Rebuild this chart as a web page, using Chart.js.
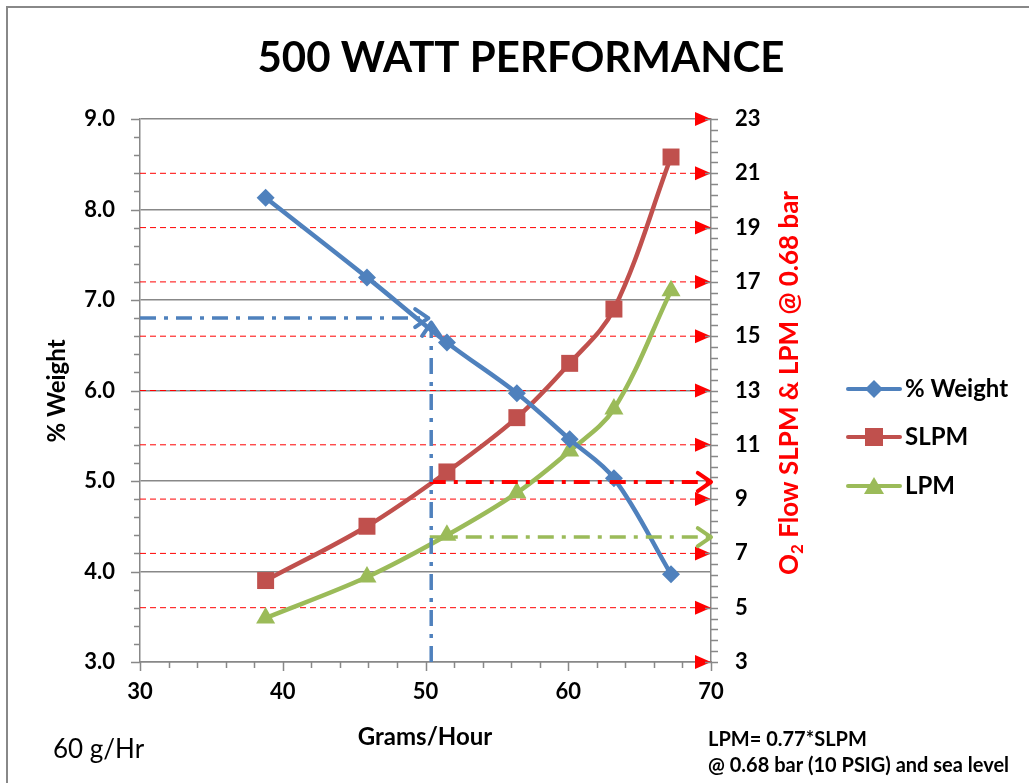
<!DOCTYPE html>
<html>
<head>
<meta charset="utf-8">
<script src="https://cdn.jsdelivr.net/npm/chart.js"></script>
<style>
  body { margin: 0; background: #fff; }
  #wrap { width: 1029px; height: 783px; position: relative; }
</style>
</head>
<body>
<div id="wrap"><canvas id="chart1"></canvas></div>
<script>
// data
const gramsPerHour = [38.8, 45.9, 51.5, 56.4, 60.1, 63.2, 67.2];
const pctWeight = [8.13, 7.25, 6.53, 5.97, 5.46, 5.03, 3.97];
const slpm = [6.0, 8.0, 10.0, 12.0, 14.0, 16.0, 21.6];
const lpm = [4.62, 6.13, 7.67, 9.23, 10.77, 12.32, 16.67];
const seriesNames = ['% Weight', 'SLPM', 'LPM'];

// guide lines for the 60 g/Hr example
const guideX = [30, 50.2];      // horizontal blue, at guideWeight
const guideWeight = 6.8;
const guideVY = [3.0, 6.75];    // vertical blue at x = 50.4
const guideVX = 50.4;
const guideFlowX = [50.3, 70];
const guideSlpm = 9.63;
const guideLpm = 7.6;

const FONT = 'Lato, "Open Sans", sans-serif';
const BLUE = '#4F81BD', RED = '#C0504D', GREEN = '#9BBB59', AXIS = '#888888';

const pts = (xs, ys) => xs.map((x, i) => ({ x: x, y: ys[i] }));
const dashDot = [16, 8, 4, 8];

// red dashed lines + arrow triangles at right axis ticks, minor ticks
const axisDeco = {
  id: 'axisDeco',
  beforeDatasetsDraw(chart) {
    const { ctx, chartArea: a, scales } = chart;
    const y2 = scales.y2;
    ctx.save();
    for (let v = 3; v <= 23; v += 2) {
      const py = y2.getPixelForValue(v);
      if (v > 3 && v < 23) {
        ctx.strokeStyle = '#FF0000';
        ctx.lineWidth = 1;
        ctx.setLineDash([6, 4]);
        ctx.beginPath();
        ctx.moveTo(a.left, py);
        ctx.lineTo(a.right - 10, py);
        ctx.stroke();
      }
      ctx.setLineDash([]);
      ctx.fillStyle = '#FF0000';
      ctx.beginPath();
      ctx.moveTo(a.right, py);
      ctx.lineTo(a.right - 16, py - 7);
      ctx.lineTo(a.right - 16, py + 7);
      ctx.closePath();
      ctx.fill();
    }
    ctx.restore();
  },
  afterDraw(chart) {
    const { ctx, chartArea: a, scales } = chart;
    ctx.save();
    ctx.strokeStyle = AXIS;
    ctx.lineWidth = 1.5;
    ctx.beginPath();
    // left axis ticks
    for (let i = 0; i <= 30; i++) {
      const py = Math.round(scales.y.getPixelForValue(3 + i * 0.2)) + 0.5;
      ctx.moveTo(a.left - (i % 5 === 0 ? 9 : 6), py);
      ctx.lineTo(a.left, py);
    }
    // right axis ticks
    for (let i = 0; i <= 50; i++) {
      const py = Math.round(scales.y2.getPixelForValue(3 + i * 0.4)) + 0.5;
      const major = i % 5 === 0;
      ctx.moveTo(a.right - (major ? 6 : 0), py);
      ctx.lineTo(a.right + 7, py);
    }
    // x axis ticks
    for (let i = 0; i <= 20; i++) {
      const px = Math.round(scales.x.getPixelForValue(30 + i * 2)) + 0.5;
      ctx.moveTo(px, a.bottom);
      ctx.lineTo(px, a.bottom + (i % 5 === 0 ? 9 : 6));
    }
    ctx.stroke();

    // open arrow heads on guide lines
    chart.data.datasets.forEach((ds, di) => {
      if (!ds.arrow) return;
      const els = chart.getDatasetMeta(di).data;
      const p1 = els[els.length - 2], p2 = els[els.length - 1];
      const ang = Math.atan2(p2.y - p1.y, p2.x - p1.x);
      ctx.strokeStyle = ds.borderColor;
      ctx.lineWidth = 4;
      ctx.lineCap = 'round';
      ctx.beginPath();
      for (const s of [-1, 1]) {
        const t = ang + Math.PI + s * 0.6;
        ctx.moveTo(p2.x, p2.y);
        ctx.lineTo(p2.x + 16 * Math.cos(t), p2.y + 16 * Math.sin(t));
      }
      ctx.stroke();
    });

    // frame
    ctx.strokeStyle = AXIS;
    ctx.lineWidth = 2;
    ctx.strokeRect(7, 7, 1100, 1100);

    // texts
    ctx.fillStyle = '#000';
    ctx.textAlign = 'center';
    ctx.textBaseline = 'middle';
    ctx.font = 'bold 42px ' + FONT;
    ctx.fillText('500 WATT PERFORMANCE', 521, 58);

    ctx.font = 'bold 24px ' + FONT;
    ctx.fillText('Grams/Hour', 425, 737);

    ctx.save();
    ctx.translate(57, 391);
    ctx.rotate(-Math.PI / 2);
    ctx.fillText('% Weight', 0, 0);
    ctx.restore();

    // right axis title with subscript
    ctx.save();
    ctx.translate(790, 383);
    ctx.rotate(-Math.PI / 2);
    ctx.fillStyle = '#FF0000';
    ctx.textAlign = 'left';
    const big = 'bold 26px ' + FONT, small = 'bold 17px ' + FONT;
    const rest = ' Flow SLPM & LPM @ 0.68 bar';
    ctx.font = big; const wO = ctx.measureText('O').width, wR = ctx.measureText(rest).width;
    ctx.font = small; const w2 = ctx.measureText('2').width;
    let x0 = -(wO + w2 + wR) / 2;
    ctx.font = big; ctx.fillText('O', x0, 0);
    ctx.font = small; ctx.fillText('2', x0 + wO, 8);
    ctx.font = big; ctx.fillText(rest, x0 + wO + w2, 0);
    ctx.restore();

    ctx.textAlign = 'left';
    ctx.font = '26px ' + FONT;
    ctx.fillText('60 g/Hr', 53, 750);
    ctx.font = 'bold 20px ' + FONT;
    ctx.fillText('LPM= 0.77*SLPM', 708, 740);
    ctx.fillText('@ 0.68 bar (10 PSIG) and sea level', 708, 766);

    // legend
    const legendRows = [
      { name: seriesNames[0], color: BLUE, mark: 'diamond', y: 389 },
      { name: seriesNames[1], color: RED, mark: 'square', y: 437 },
      { name: seriesNames[2], color: GREEN, mark: 'triangle', y: 486 }
    ];
    ctx.font = 'bold 24px ' + FONT;
    legendRows.forEach(r => {
      ctx.strokeStyle = r.color;
      ctx.fillStyle = r.color;
      ctx.lineWidth = 4;
      ctx.lineCap = 'round';
      ctx.beginPath();
      ctx.moveTo(848, r.y); ctx.lineTo(900, r.y);
      ctx.stroke();
      ctx.beginPath();
      if (r.mark === 'diamond') {
        ctx.moveTo(874, r.y - 9); ctx.lineTo(883, r.y); ctx.lineTo(874, r.y + 9); ctx.lineTo(865, r.y);
      } else if (r.mark === 'square') {
        ctx.rect(865, r.y - 9, 18, 18);
      } else {
        ctx.moveTo(874, r.y - 9); ctx.lineTo(884, r.y + 8); ctx.lineTo(864, r.y + 8);
      }
      ctx.closePath();
      ctx.fill();
      ctx.fillStyle = '#000';
      ctx.fillText(r.name, 905, r.y);
    });
    ctx.restore();
  }
};

const lineStyle = (color, style, radius) => ({
  borderColor: color, backgroundColor: color,
  borderWidth: 4.5, pointStyle: style, pointRadius: radius,
  pointBorderWidth: 0, tension: 0.35, cubicInterpolationMode: 'default'
});
const guideStyle = (color, w) => ({
  borderColor: color, borderWidth: w || 3.5, borderDash: dashDot,
  pointRadius: 0, tension: 0, arrow: true
});

const tickFont = { family: FONT, size: 22, weight: 'bold' };

new Chart(document.getElementById('chart1'), {
  type: 'line',
  data: {
    datasets: [
      Object.assign({ label: 'guideH', data: pts(guideX, [guideWeight, guideWeight]), yAxisID: 'y' }, guideStyle(BLUE)),
      Object.assign({ label: 'guideV', data: pts([guideVX, guideVX], guideVY), yAxisID: 'y' }, guideStyle(BLUE)),
      Object.assign({ label: 'guideS', data: pts(guideFlowX, [guideSlpm, guideSlpm]), yAxisID: 'y2' }, guideStyle('#FF0000', 4)),
      Object.assign({ label: 'guideL', data: pts(guideFlowX, [guideLpm, guideLpm]), yAxisID: 'y2' }, guideStyle(GREEN)),
      Object.assign({ label: seriesNames[0], data: pts(gramsPerHour, pctWeight), yAxisID: 'y' }, lineStyle(BLUE, 'rectRot', 9)),
      Object.assign({ label: seriesNames[1], data: pts(gramsPerHour, slpm), yAxisID: 'y2' }, lineStyle(RED, 'rect', 12)),
      Object.assign({ label: seriesNames[2], data: pts(gramsPerHour, lpm), yAxisID: 'y2' }, lineStyle(GREEN, 'triangle', 11))
    ]
  },
  options: {
    responsive: true,
    maintainAspectRatio: false,
    animation: false,
    layout: { padding: { top: 119, left: 0, right: 0, bottom: 0 } },
    plugins: { legend: { display: false }, tooltip: { enabled: false } },
    scales: {
      x: {
        type: 'linear', min: 30, max: 70,
        ticks: { stepSize: 10, padding: 17, color: '#000', font: tickFont },
        grid: { display: false, drawTicks: false },
        border: { display: true, color: AXIS, width: 1.5 },
        afterFit: s => { s.height = 121; }
      },
      y: {
        position: 'left', min: 3, max: 9,
        ticks: { stepSize: 1, padding: 25, color: '#000', callback: v => v.toFixed(1), font: tickFont },
        grid: { color: AXIS, lineWidth: 1.5, drawTicks: false },
        border: { display: true, color: AXIS, width: 1.5 },
        afterFit: s => { s.width = 140; }
      },
      y2: {
        position: 'right', min: 3, max: 23,
        ticks: { stepSize: 2, padding: 24, color: '#000', font: tickFont },
        grid: { drawOnChartArea: false, drawTicks: false },
        border: { display: true, color: AXIS, width: 1.5 },
        afterFit: s => { s.width = 318; }
      }
    }
  },
  plugins: [axisDeco]
});
</script>
</body>
</html>
